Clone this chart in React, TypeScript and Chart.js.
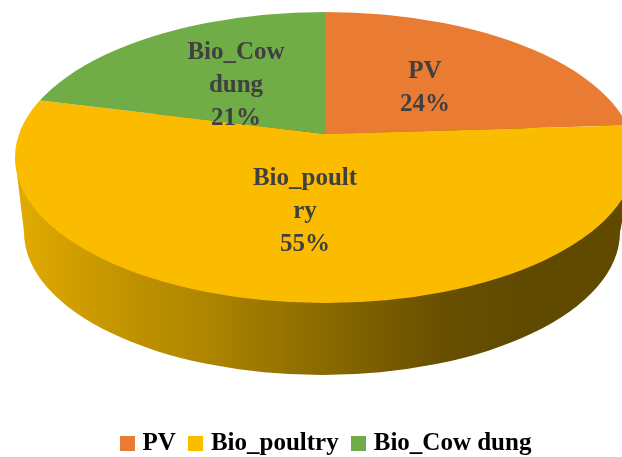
import React, { useEffect, useRef } from "react";
import { Chart, registerables } from "chart.js";

Chart.register(...registerables);

const categories = ["PV", "Bio_poultry", "Bio_Cow dung"];
const shares = [24, 55, 21];
const sliceColors = ["#EA7B33", "#FBBC00", "#70AD47"];
const wrappedNames = [["PV"], ["Bio_poult", "ry"], ["Bio_Cow", "dung"]];
const labelCenters = [
  [425, 88],
  [305, 212],
  [236, 86],
];
const serif = "'Liberation Serif', serif";

function legendSwatch(color: string) {
  const c = document.createElement("canvas");
  c.width = 15;
  c.height = 15;
  const g = c.getContext("2d")!;
  g.fillStyle = color;
  g.fillRect(0, 0, 15, 15);
  return c;
}

const pie3d = {
  id: "pie3d",
  beforeDatasetsDraw(chart: any) {
    const ctx = chart.ctx;
    const arc = chart.getDatasetMeta(0).data[0];
    // side wall
    ctx.save();
    const g = ctx.createLinearGradient(15, 0, 622, 0);
    const stops: [number, string][] = [
      [15, "#E2AB00"],
      [130, "#C09200"],
      [200, "#B08700"],
      [320, "#8B6A00"],
      [440, "#695000"],
      [520, "#604A00"],
      [622, "#604A00"],
    ];
    stops.forEach(([x, c]) => g.addColorStop((x - 15) / 607, c));
    ctx.fillStyle = g;
    ctx.beginPath();
    ctx.ellipse(322, 232, 298, 143, 0, 0, Math.PI * 2);
    ctx.fill();
    ctx.beginPath();
    ctx.moveTo(15, 157);
    ctx.lineTo(635, 157);
    ctx.lineTo(620, 232);
    ctx.lineTo(24, 232);
    ctx.closePath();
    ctx.fill();
    ctx.restore();
    // top face: clipped ellipse, wedges fan out from the perspective apex
    ctx.save();
    ctx.beginPath();
    ctx.ellipse(325, 157.5, 310, 145.5, 0, 0, Math.PI * 2);
    ctx.clip();
    const sx = 456 / arc.outerRadius;
    const sy = sx * 0.46;
    ctx.translate(325, 134);
    ctx.scale(sx, sy);
    ctx.translate(-arc.x, -arc.y);
  },
  afterDatasetsDraw(chart: any) {
    const ctx = chart.ctx;
    ctx.restore();
    ctx.save();
    ctx.fillStyle = "#404040";
    ctx.font = `bold 25px ${serif}`;
    ctx.textAlign = "center";
    ctx.textBaseline = "middle";
    shares.forEach((v, i) => {
      const lines = [...wrappedNames[i], `${v}%`];
      const lh = 33;
      const [cx, cy] = labelCenters[i];
      lines.forEach((t, k) => {
        ctx.fillText(t, cx, cy + (k - (lines.length - 1) / 2) * lh);
      });
    });
    ctx.restore();
  },
};

export default function App() {
  const ref = useRef<HTMLCanvasElement>(null);
  useEffect(() => {
    const chart = new Chart(ref.current!, {
      type: "pie",
      data: {
        labels: categories,
        datasets: [{ data: shares, backgroundColor: sliceColors, borderWidth: 0 }],
      },
      options: {
        animation: false,
        responsive: false,
        layout: { padding: { left: 34, bottom: -9 } },
        plugins: {
          tooltip: { enabled: false },
          legend: {
            position: "bottom",
            labels: {
              usePointStyle: true,
              pointStyleWidth: 5.5,
              boxHeight: 15,
              padding: 17,
              color: "#000000",
              font: { family: serif, size: 25, weight: "bold" },
              generateLabels(c: any) {
                const base = (Chart as any).overrides.pie.plugins.legend.labels.generateLabels(c);
                return base.map((item: any, i: number) => ({
                  ...item,
                  pointStyle: legendSwatch(sliceColors[i]),
                }));
              },
            },
          },
        },
      },
      plugins: [pie3d],
    } as any);
    return () => chart.destroy();
  }, []);
  return (
    <div style={{ position: "fixed", left: 0, top: 0, width: 622, height: 457, background: "#fff" }}>
      <canvas ref={ref} width={622} height={457} style={{ display: "block" }} />
    </div>
  );
}
